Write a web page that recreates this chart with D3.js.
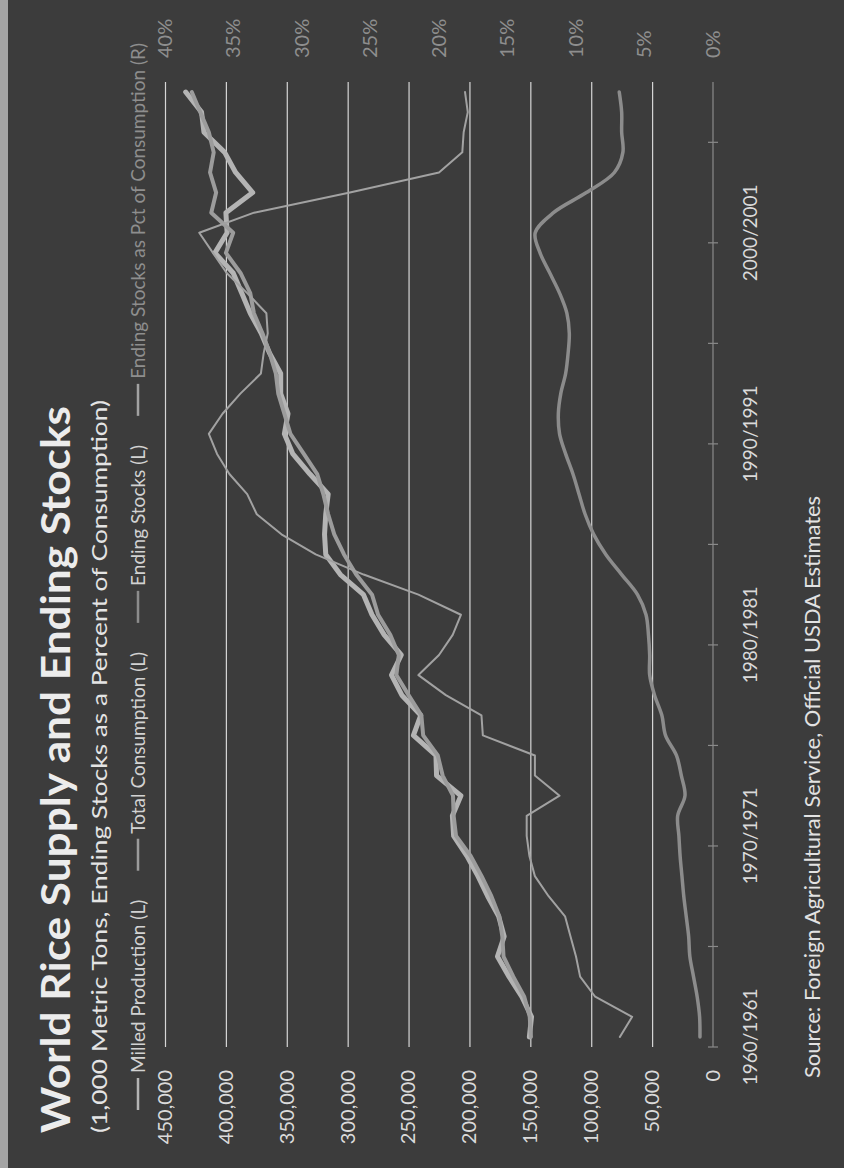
<!DOCTYPE html>
<html>
<head>
<meta charset="utf-8">
<script src="https://cdn.jsdelivr.net/npm/d3@7"></script>
<style>
  body { margin: 0; background: #3c3c3c; }
  svg { display: block; }
  text { font-family: Lato, "Open Sans", sans-serif; }
</style>
</head>
<body>
<div id="chart"></div>
<script>
// marketing years (category axis)
const years = ["1960/1961","1961/1962","1962/1963","1963/1964","1964/1965","1965/1966","1966/1967","1967/1968","1968/1969","1969/1970",
  "1970/1971","1971/1972","1972/1973","1973/1974","1974/1975","1975/1976","1976/1977","1977/1978","1978/1979","1979/1980",
  "1980/1981","1981/1982","1982/1983","1983/1984","1984/1985","1985/1986","1986/1987","1987/1988","1988/1989","1989/1990",
  "1990/1991","1991/1992","1992/1993","1993/1994","1994/1995","1995/1996","1996/1997","1997/1998","1998/1999","1999/2000",
  "2000/2001","2001/2002","2002/2003","2003/2004","2004/2005","2005/2006","2006/2007","2007/2008"];
const yearLabels = ["1960/1961","1970/1971","1980/1981","1990/1991","2000/2001"];

// 1,000 metric tons
const production = [150800,149000,157000,167500,177000,171500,176000,185000,193000,202000,
  213000,214000,207000,227000,227500,246000,240000,255500,264000,256000,
  270000,280000,287000,306000,318000,319000,318000,316000,331000,345000,
  352000,349000,355000,355000,364000,371000,380000,387000,394000,409000,
  399000,400000,378000,392000,401000,418000,420000,433000];
const consumption = [149500,150500,155000,164000,172000,173000,175500,182000,190000,199000,
  211000,213000,213500,222000,226000,238000,239500,250000,260000,258000,
  265000,275000,280000,293000,303000,311000,316000,320000,325000,336000,
  347000,352000,357000,359000,364000,370000,377000,380000,388000,400000,
  394000,412000,408000,413000,410000,414000,421000,428000];
const endingStocks = [10700,11000,13000,16000,19000,20000,22000,24000,25500,27000,
  28000,29000,23000,26000,30000,39000,42000,48000,52000,52000,
  53000,55000,62000,75000,88000,98000,105000,110000,115000,121000,
  126000,127000,125000,121000,119000,118000,120000,126000,134000,142000,
  146000,131000,104000,81000,74000,75000,75000,77000];
// percent of consumption
const stocksPct = [6.8,5.9,8.6,9.7,10.0,10.4,10.8,12.0,13.0,13.4,
  13.6,13.6,11.2,13.0,13.0,16.8,16.9,19.5,21.5,20.0,
  19.0,18.4,21.5,25.5,29.0,31.5,33.3,34.0,35.3,36.2,
  36.8,35.8,34.5,33.0,32.8,32.5,32.6,34.0,35.5,36.5,
  37.5,33.5,26.5,20.0,18.3,18.2,17.9,18.1];

const leftTicks = [0,50000,100000,150000,200000,250000,300000,350000,400000,450000];
const rightTicks = [0,5,10,15,20,25,30,35,40];
const seriesNames = ["Milled Production (L)","Total Consumption (L)","Ending Stocks (L)","Ending Stocks as Pct of Consumption (R)"];

// chart is drawn in landscape and turned a quarter turn
const W = 1168, H = 844;
const plot = {left: 121, right: 1086, top: 165, bottom: 713};

const svg = d3.select("#chart").append("svg")
    .attr("width", H)
    .attr("height", W);
svg.append("rect").attr("width", H).attr("height", W).attr("fill", "#3c3c3c");
svg.append("rect").attr("width", 8).attr("height", W).attr("fill", "#a4a4a4");

const g = svg.append("g")
    .attr("transform", "translate(0," + W + ") rotate(-90)");

const x = d3.scaleBand().domain(years).range([plot.left, plot.right]);
const xc = d => x(d) + x.bandwidth() / 2;
const yL = d3.scaleLinear().domain([0, 450000]).range([plot.bottom, plot.top]);
const yR = d3.scaleLinear().domain([0, 40]).range([plot.bottom, plot.top]);

// gridlines + left labels
const leftAxis = g.append("g")
    .attr("transform", "translate(" + plot.left + ",0)")
    .call(d3.axisLeft(yL).tickValues(leftTicks)
        .tickSize(-(plot.right - plot.left))
        .tickPadding(23)
        .tickFormat(d3.format(",")));
leftAxis.select(".domain").remove();
leftAxis.selectAll("line").attr("stroke", "#d6d6d6").attr("stroke-width", 1.2)
    .filter(d => d === 0).remove();
leftAxis.selectAll("text").attr("fill", "#dadada").style("font-size", "20px");

// right labels
const rightAxis = g.append("g")
    .attr("transform", "translate(" + plot.right + ",0)")
    .call(d3.axisRight(yR).tickValues(rightTicks).tickSize(0).tickPadding(24)
        .tickFormat(d => d + "%"));
rightAxis.select(".domain").remove();
rightAxis.selectAll("text").attr("fill", "#8e8e8e").style("font-size", "20px");

// category axis line and tick marks (every 5 years)
const catAxis = g.append("g");
catAxis.append("line")
    .attr("x1", plot.left).attr("x2", plot.right)
    .attr("y1", yL(0)).attr("y2", yL(0))
    .attr("stroke", "#8a8a8a").attr("stroke-width", 1.2);
catAxis.selectAll(".tick")
    .data(years.filter((d, i) => i % 5 === 0))
    .enter().append("line")
    .attr("x1", d => x(d)).attr("x2", d => x(d))
    .attr("y1", yL(0) - 5).attr("y2", yL(0) + 5)
    .attr("stroke", "#8a8a8a").attr("stroke-width", 1.2);
catAxis.selectAll(".ylab")
    .data(yearLabels)
    .enter().append("text")
    .attr("x", d => xc(d))
    .attr("y", 750)
    .attr("dy", "0.35em")
    .attr("text-anchor", "middle")
    .attr("fill", "#dadada")
    .style("font-size", "19px")
    .text(d => d);

// series
const styles = [
    {color: "#b4b4b4", width: 5,   curve: d3.curveLinear},
    {color: "#9c9c9c", width: 4,   curve: d3.curveLinear},
    {color: "#8c8c8c", width: 3.5, curve: d3.curveCatmullRom},
    {color: "#a2a2a2", width: 2,   curve: d3.curveLinear}
];
const series = [production, consumption, endingStocks, stocksPct];
const scales = [yL, yL, yL, yR];

series.forEach(function (vals, s) {
    let line = d3.line()
        .x((d, i) => xc(years[i]))
        .y(d => scales[s](d))
        .curve(styles[s].curve);
    g.append("path")
        .datum(vals)
        .attr("d", line)
        .attr("fill", "none")
        .attr("stroke", styles[s].color)
        .attr("stroke-width", styles[s].width)
        .attr("stroke-linejoin", "round")
        .attr("stroke-linecap", "round");
});

// titles
g.append("text")
    .attr("x", 35).attr("y", 70)
    .attr("textLength", 727).attr("lengthAdjust", "spacingAndGlyphs")
    .attr("fill", "#ececec")
    .style("font-size", "41px").style("font-weight", "bold")
    .text("World Rice Supply and Ending Stocks");
g.append("text")
    .attr("x", 35).attr("y", 107)
    .attr("textLength", 733).attr("lengthAdjust", "spacingAndGlyphs")
    .attr("fill", "#e4e4e4")
    .style("font-size", "21px")
    .text("(1,000 Metric Tons, Ending Stocks as a Percent of Consumption)");

// legend: laid out to run from x=58 to x=1125
const legend = g.append("g");
const dash = 32, gapIn = 5, legStart = 58, legEnd = 1125;
const items = seriesNames.map(function (name, s) {
    let it = legend.append("g");
    it.append("line")
        .attr("x1", 0).attr("x2", dash)
        .attr("y1", 138).attr("y2", 138)
        .attr("stroke", styles[s].color).attr("stroke-width", 2.5);
    let t = it.append("text")
        .attr("x", dash + gapIn).attr("y", 138)
        .attr("dy", "0.35em")
        .attr("fill", s === 3 ? "#8e8e8e" : "#d2d2d2")
        .style("font-size", "19px")
        .text(name);
    return {g: it, w: dash + gapIn + t.node().getComputedTextLength()};
});
const totalW = d3.sum(items, d => d.w);
const gapOut = (legEnd - legStart - totalW) / (items.length - 1);
let lx = legStart;
items.forEach(function (it) {
    it.g.attr("transform", "translate(" + lx + ",0)");
    lx += it.w + gapOut;
});

// source
g.append("text")
    .attr("x", 90).attr("y", 820)
    .attr("textLength", 582).attr("lengthAdjust", "spacingAndGlyphs")
    .attr("fill", "#e2e2e2")
    .style("font-size", "21px")
    .text("Source:  Foreign Agricultural Service, Official USDA Estimates");
</script>
</body>
</html>
